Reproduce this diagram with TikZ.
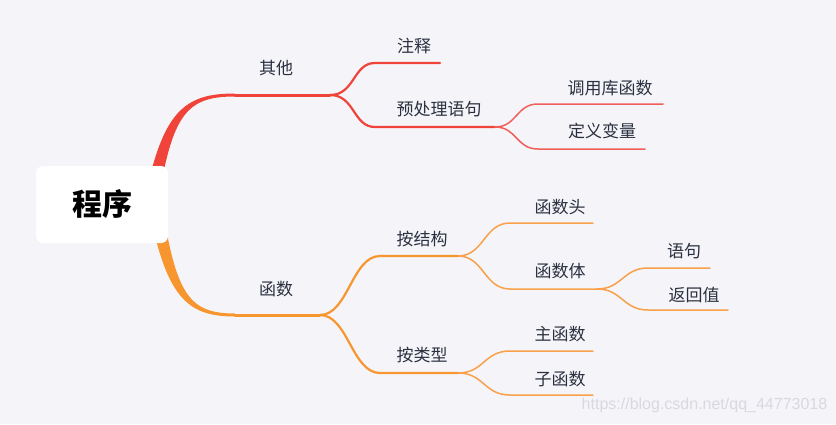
\documentclass[tikz,border=0pt]{standalone}
\usepackage{fontspec}
\setmainfont{Noto Sans CJK SC}
\newfontfamily\wmfont{Liberation Sans}
\definecolor{bg}{HTML}{F5F5F9}
\definecolor{rred}{HTML}{F0443A}
\definecolor{rred2}{HTML}{F0605A}
\definecolor{oor}{HTML}{F7962E}
\definecolor{oor2}{HTML}{F8A04A}
\definecolor{txt}{HTML}{2B3040}
\definecolor{wm}{HTML}{D8D8DF}
\tikzset{
  lab/.style={font=\fontsize{17}{17}\selectfont, text=txt, inner sep=0pt, anchor=center},
  lvA/.style={line width=3pt, line cap=round},
  lvB/.style={line width=2.2pt, line cap=round},
  lvC/.style={line width=1.5pt, line cap=round},
}
\begin{document}
\begin{tikzpicture}[x=1pt,y=-1pt]
\useasboundingbox (0,0) rectangle (836,424);
\fill[bg] (0,0) rectangle (836,424);

% coordinates
\coordinate (r0) at (235,95);
\coordinate (r1) at (330,95);
\coordinate (o0) at (235,315);
\coordinate (o1) at (320,315);

\coordinate (zs) at (375,63);   \coordinate (ze) at (440,63);
\coordinate (ys) at (375,127);  \coordinate (ye) at (495,127);
\coordinate (ds) at (538,104);  \coordinate (de) at (663,104);
\coordinate (vs) at (538,149);  \coordinate (ve) at (645,149);

\coordinate (js) at (380,256);  \coordinate (je) at (458,256);
\coordinate (ls) at (380,373);  \coordinate (le) at (458,373);
\coordinate (hs) at (510,223);  \coordinate (he) at (593,223);
\coordinate (bs) at (510,289);  \coordinate (be) at (597,289);
\coordinate (ss) at (648,268);  \coordinate (se) at (710,268);
\coordinate (fs) at (648,310);  \coordinate (fe) at (728,310);
\coordinate (ms) at (510,351);  \coordinate (me) at (593,351);
\coordinate (cs) at (510,395);  \coordinate (ce) at (593,395);

% main tapered branches
\fill[rred] (144,204) .. controls (162,110) and (185,93.5) .. (235,93.5)
  -- (235,96.5) .. controls (188,96.5) and (172,112) .. (158,204) -- cycle;
\fill[oor] (148,204) .. controls (166,298) and (187,316.5) .. (235,316.5)
  -- (235,313.5) .. controls (190,313.5) and (176,296) .. (162,204) -- cycle;

\draw[rred,lvA] (r0) -- (r1);
\draw[oor,lvA] (o0) -- (o1);

% red sub-branches
\draw[rred,lvB] (r1) .. controls +(25,0) and +(-22,0) .. (zs) -- (ze);
\draw[rred,lvB] (r1) .. controls +(25,0) and +(-22,0) .. (ys) -- (ye);
\draw[rred2,lvC] (ye) .. controls +(22,0) and +(-22,0) .. (ds) -- (de);
\draw[rred2,lvC] (ye) .. controls +(22,0) and +(-22,0) .. (vs) -- (ve);

% orange sub-branches
\draw[oor,lvB] (o1) .. controls +(28,0) and +(-28,0) .. (js) -- (je);
\draw[oor,lvB] (o1) .. controls +(28,0) and +(-28,0) .. (ls) -- (le);
\draw[oor2,lvC] (je) .. controls +(26,0) and +(-26,0) .. (hs) -- (he);
\draw[oor2,lvC] (je) .. controls +(26,0) and +(-26,0) .. (bs) -- (be);
\draw[oor2,lvC] (be) .. controls +(25,0) and +(-25,0) .. (ss) -- (se);
\draw[oor2,lvC] (be) .. controls +(25,0) and +(-25,0) .. (fs) -- (fe);
\draw[oor2,lvC] (le) .. controls +(26,0) and +(-26,0) .. (ms) -- (me);
\draw[oor2,lvC] (le) .. controls +(26,0) and +(-26,0) .. (cs) -- (ce);

% root
\node[fill=white, rounded corners=7pt, minimum width=132pt, minimum height=77pt,
      inner sep=0pt, font=\fontsize{30}{30}\selectfont\bfseries, text=black]
      (root) at (102,204.5) {程序};

% labels
\node[lab] (qt) at (276,68) {其他};
\node[lab] (zs1) at (414,46) {注释};
\node[lab] (ycl) at (439,109) {预处理语句};
\node[lab] (dyk) at (610,88) {调用库函数};
\node[lab] (dybl) at (602,131) {定义变量};
\node[lab] (hs0) at (276,289) {函数};
\node[lab] (ajg) at (422,239) {按结构};
\node[lab] (alx) at (422,355) {按类型};
\node[lab] (hst) at (560,207) {函数头};
\node[lab] (hsb) at (560,271) {函数体};
\node[lab] (yj) at (684,251) {语句};
\node[lab] (fhz) at (694,295) {返回值};
\node[lab] (zhs) at (560,334) {主函数};
\node[lab] (zihs) at (560,379) {子函数};

\node[font=\wmfont\fontsize{16}{16}\selectfont, text=wm, inner sep=0pt]
  (wmk) at (704.5,405) {https://blog.csdn.net/qq\_44773018};
\end{tikzpicture}
\end{document}
